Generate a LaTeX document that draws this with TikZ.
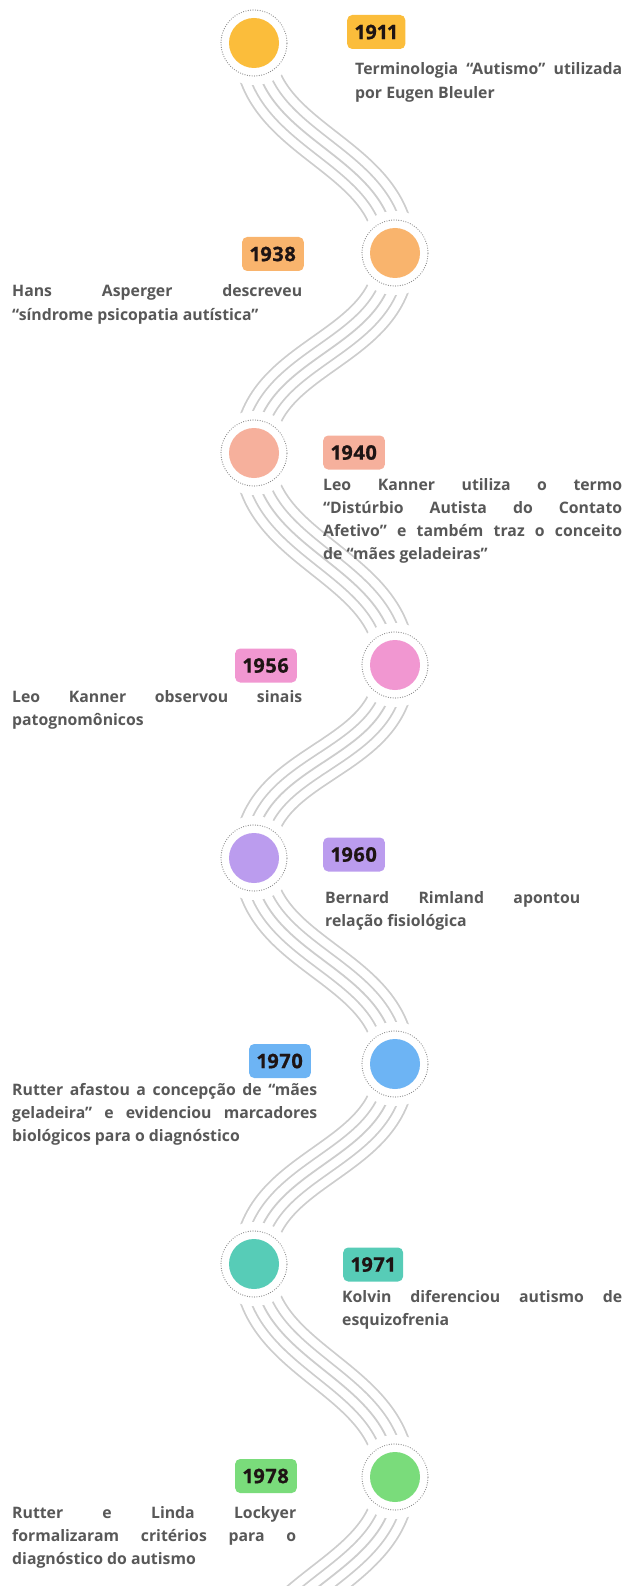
\documentclass[tikz,border=0pt]{standalone}
\usepackage{fontspec}
\setmainfont{Open Sans}
\newfontfamily\yearfont{Open Sans}[Numbers=Proportional, BoldFeatures={FakeBold=0.8, LetterSpace=3}]
\usetikzlibrary{backgrounds}

\definecolor{c1911}{HTML}{FBBD3B}
\definecolor{c1938}{HTML}{F9B46D}
\definecolor{c1940}{HTML}{F6B09C}
\definecolor{c1956}{HTML}{F197D1}
\definecolor{c1960}{HTML}{BB9CEE}
\definecolor{c1970}{HTML}{6DB4F4}
\definecolor{c1971}{HTML}{57CCB7}
\definecolor{c1978}{HTML}{7ADC7B}
\definecolor{wavegray}{HTML}{CDCDCD}
\definecolor{ringgray}{HTML}{8A8A8A}
\definecolor{yeartext}{HTML}{1E1414}
\definecolor{desctext}{HTML}{585858}

\begin{document}
\begin{tikzpicture}[x=1pt,y=-1pt,
  event/.style={circle, fill=#1, minimum size=50pt, inner sep=0pt},
  ring/.style={draw=ringgray, line width=1.2pt, dash pattern=on 0pt off 2.4pt, line cap=round},
  year/.style={fill=#1, rounded corners=5pt, minimum height=34pt, inner xsep=8pt,
    inner ysep=0pt, font=\fontsize{20}{20}\selectfont\yearfont\bfseries, text=yeartext},
  desc/.style={inner sep=0pt, font=\fontsize{15.8}{23.3}\selectfont\bfseries, text=desctext}]
\useasboundingbox (0,0) rectangle (627,1586);

% timeline stops
\node[event=c1911] (e1) at (254,43) {};
\node[event=c1938] (e2) at (395,253) {};
\node[event=c1940] (e3) at (254,453) {};
\node[event=c1956] (e4) at (395,665) {};
\node[event=c1960] (e5) at (254,858) {};
\node[event=c1970] (e6) at (395,1064) {};
\node[event=c1971] (e7) at (254,1264) {};
\node[event=c1978] (e8) at (395,1477) {};
\coordinate (e9) at (254,1687);

% dotted rings round the stops
\foreach \n in {e1,e2,e3,e4,e5,e6,e7,e8}
  \draw[ring] (\n.center) circle (33pt);

% five parallel strands: nested strokes, gray then white, give true offsets
\begin{scope}[on background layer]
  \clip (0,0) rectangle (627,1586);
  \foreach \a/\b in {e1/e2,e2/e3,e3/e4,e4/e5,e5/e6,e6/e7,e7/e8,e8/e9}
    \foreach \w/\c in {41.8/wavegray, 38.2/white, 21.8/wavegray, 18.2/white, 1.8/wavegray}
      \draw[draw=\c, line width=\w pt] (\a.center) .. controls +(0,100) and +(0,-100) .. (\b.center);
  \foreach \n in {e1,e2,e3,e4,e5,e6,e7,e8}
    \fill[white] (\n.center) circle (42pt);
\end{scope}

% year tags
\node[year=c1911, anchor=west] (y1) at (347,32) {1911};
\node[year=c1938, anchor=east] (y2) at (304,254) {1938};
\node[year=c1940, anchor=west] (y3) at (323,452.5) {1940};
\node[year=c1956, anchor=east] (y4) at (297,665.5) {1956};
\node[year=c1960, anchor=west] (y5) at (323,854.5) {1960};
\node[year=c1970, anchor=east] (y6) at (311,1061) {1970};
\node[year=c1971, anchor=west] (y7) at (343,1264.5) {1971};
\node[year=c1978, anchor=east] (y8) at (297,1476) {1978};

% descriptions
\node[desc, anchor=base west] (t1) at (355,75) {\parbox[t]{267pt}{Terminologia “Autismo” utilizada\linebreak por Eugen Bleuler}};
\node[desc, anchor=base west] (t2) at (12,297) {\parbox[t]{290pt}{Hans Asperger descreveu\linebreak “síndrome psicopatia autística”}};
\node[desc, anchor=base west] (t3) at (323,490) {\parbox[t]{299pt}{Leo Kanner utiliza o termo\linebreak “Distúrbio Autista do Contato\linebreak Afetivo” e também traz o conceito\linebreak de “mães geladeiras”}};
\node[desc, anchor=base west] (t4) at (12,702) {\parbox[t]{290pt}{Leo Kanner observou sinais\linebreak patognomônicos}};
\node[desc, anchor=base west] (t5) at (325,903) {\parbox[t]{255pt}{Bernard Rimland apontou\linebreak relação fisiológica}};
\node[desc, anchor=base west] (t6) at (12,1095) {\parbox[t]{305pt}{Rutter afastou a concepção de “mães\linebreak geladeira” e evidenciou marcadores\linebreak biológicos para o diagnóstico}};
\node[desc, anchor=base west] (t7) at (342,1302) {\parbox[t]{280pt}{Kolvin diferenciou autismo de\linebreak esquizofrenia}};
\node[desc, anchor=base west] (t8) at (12,1518) {\parbox[t]{284pt}{Rutter e Linda Lockyer\linebreak formalizaram critérios para o\linebreak diagnóstico do autismo}};
\end{tikzpicture}
\end{document}
